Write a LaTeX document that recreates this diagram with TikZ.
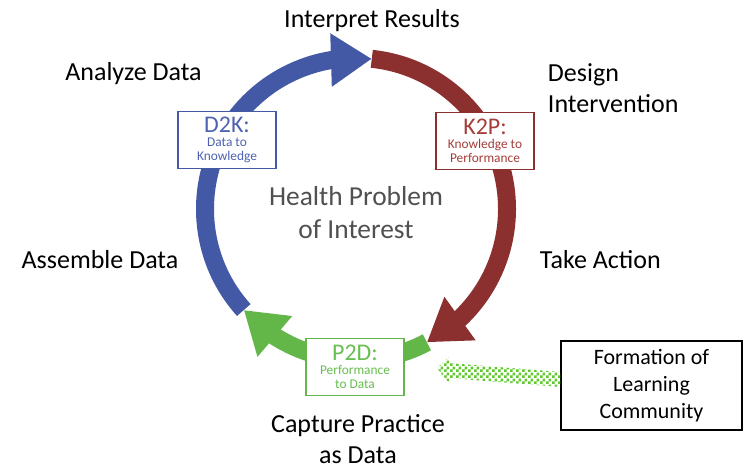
\documentclass[tikz,border=0pt]{standalone}
\usepackage{fontspec}
\setmainfont{Carlito}
\usetikzlibrary{arrows.meta,bending,patterns,calc}

\definecolor{ringblue}{RGB}{68,89,165}
\definecolor{ringred}{RGB}{139,47,47}
\definecolor{ringgreen}{RGB}{99,183,73}
\definecolor{txtblue}{RGB}{78,98,178}
\definecolor{txtred}{RGB}{165,62,58}
\definecolor{txtgreen}{RGB}{104,190,80}
\definecolor{chkgreen}{RGB}{95,200,45}
\definecolor{midgray}{RGB}{80,80,80}

% small checkerboard
\pgfdeclarepatternformonly{finechecker}{\pgfpointorigin}{\pgfqpoint{4.268pt}{4.268pt}}{\pgfqpoint{4.268pt}{4.268pt}}{
  \pgfpathrectangle{\pgfpointorigin}{\pgfqpoint{2.134pt}{2.134pt}}
  \pgfpathrectangle{\pgfqpoint{2.134pt}{2.134pt}}{\pgfqpoint{2.134pt}{2.134pt}}
  \pgfusepath{fill}}

\begin{document}
\begin{tikzpicture}[x=0.025cm,y=-0.025cm,
  ring/.style={line width=12.8pt, -{Triangle[width=36pt,length=29pt]}},
  steptext/.style={font=\fontsize{18.5}{22}\selectfont},
  phasebox/.style={draw, fill=white, line width=0.8pt, align=center,
    minimum width=2.45cm, minimum height=1.425cm, inner sep=1pt,
    font=\fontsize{9.5}{10}\selectfont}]
\useasboundingbox (0,0) rectangle (752,468);

% the cycle
\coordinate (hub) at (356,209);
\draw[ring, ringred] ([shift={(276:151)}]hub) arc (276:422:151);
\draw[ring, ringgreen] ([shift={(62:151)}]hub) arc (62:138:151);
\draw[ring, ringblue] ([shift={(138:151)}]hub) arc (138:276:151);

% phase boxes
\node[phasebox, draw=ringblue, text=txtblue] (dtok) at (227,140)
  {{\fontsize{17}{17}\selectfont D2K:}\\Data to\\Knowledge};
\node[phasebox, draw=ringred, text=txtred] (ktop) at (485,141)
  {{\fontsize{17}{17}\selectfont K2P:}\\Knowledge to\\Performance};
\node[phasebox, draw=ringgreen, text=txtgreen] (ptod) at (355,367)
  {{\fontsize{17}{17}\selectfont P2D:}\\Performance\\to Data};

\node[font=\fontsize{19.5}{23.5}\selectfont, text=midgray, align=center] (health)
  at (356,213) {Health Problem\\of Interest};

% step labels
\node[steptext, anchor=base] (interp) at (372,27) {Interpret Results};
\node[steptext, anchor=base] (analyze) at (133.5,80) {Analyze Data};
\node[steptext, anchor=base west, align=left] (design) at (543,112) {Design\\Intervention};
\node[steptext, anchor=base] (assemble) at (100,268) {Assemble Data};
\node[steptext, anchor=base west] (action) at (535,268) {Take Action};
\node[steptext, anchor=base, align=center] (capture) at (358,463) {Capture Practice\\as Data};

% learning community
\node[draw, fill=white, line width=0.8pt, align=center, minimum width=4.525cm,
  minimum height=2.225cm, font=\fontsize{15.6}{19}\selectfont] (learn)
  at (651.5,385.5) {Formation of\\Learning\\Community};
\coordinate (tip) at (437,368);
\fill[pattern=finechecker, pattern color=chkgreen]
  (tip) -- (449,357) -- (449,363) -- ($(learn.west)+(0,-13.5)$)
  -- ($(learn.west)+(0,1.5)$) -- (449,378) -- (449,383) -- cycle;
\end{tikzpicture}
\end{document}
